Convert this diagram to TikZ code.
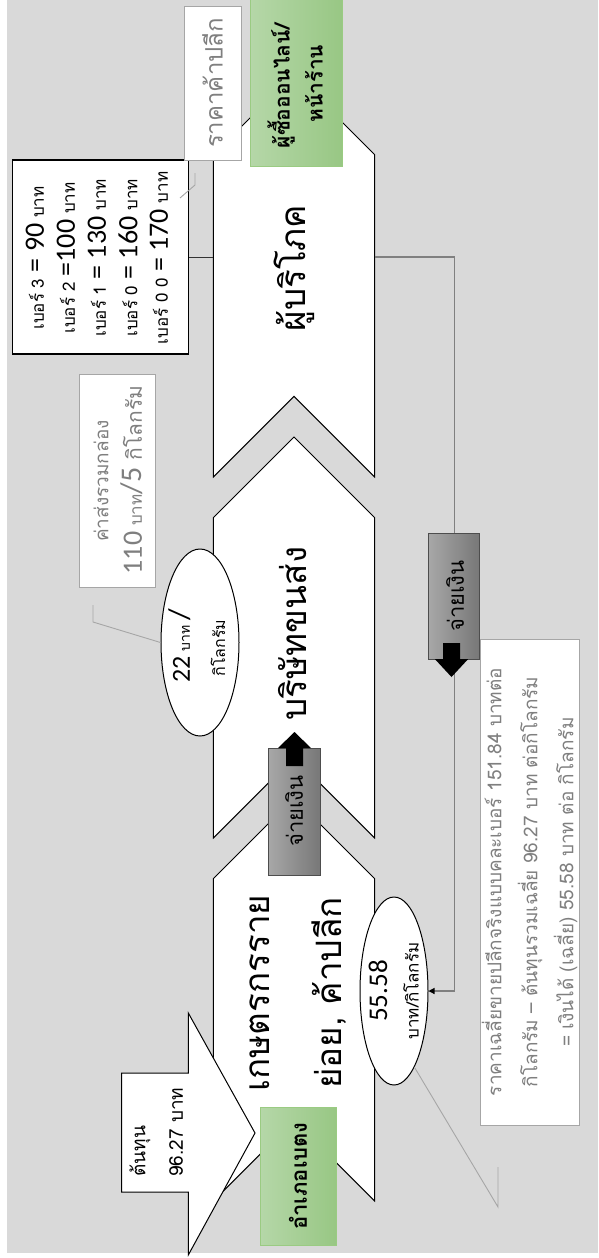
\documentclass[tikz,border=0pt]{standalone}
\usepackage{fontspec}
\setmainfont{Carlito}
\newfontfamily\thfont[Script=Thai]{Loma}
\usetikzlibrary{shapes.geometric,arrows.meta}

\definecolor{bgGrey}{HTML}{D9D9D9}
\definecolor{noteGrey}{HTML}{A6A6A6}
\definecolor{noteText}{HTML}{7F7F7F}
\definecolor{lineGrey}{HTML}{808080}
\definecolor{payL}{HTML}{A8A8A8}
\definecolor{payR}{HTML}{777777}
\definecolor{payEdge}{HTML}{4D4D4D}
\definecolor{greenL}{HTML}{B5D7A8}
\definecolor{greenR}{HTML}{98C784}
\definecolor{greenEdge}{HTML}{9ACB82}

% Thai text (Loma) and Latin figures (Carlito) at a given size in px
\newcommand\thsz[1]{\thfont\fontsize{#1}{#1}\selectfont}
\newcommand\lasz[1]{\rmfamily\fontsize{#1}{#1}\selectfont}

\begin{document}
\begin{tikzpicture}[x=1pt,y=-1pt,
  txt/.style={rotate=90, inner sep=0pt, align=center},
  chevtext/.style={txt, font={\thsz{35}}},
  chev/.style={draw=black, line width=1pt, fill=white, line join=miter},
  notebox/.style={draw=noteGrey, line width=1pt, fill=white, inner sep=0pt},
  pricebox/.style={draw=black, line width=1.3pt, fill=white, inner sep=0pt},
  bubble/.style={ellipse, draw=black, line width=1pt, fill=white, inner sep=0pt},
  paybox/.style={draw=payEdge, line width=0.8pt, left color=payL, right color=payR, inner sep=0pt},
  placebox/.style={draw=greenEdge, line width=0.8pt, left color=greenL, right color=greenR, inner sep=0pt},
  pointer/.style={draw=noteGrey, line width=0.9pt},
  flow/.style={draw=lineGrey, line width=1.2pt},
  link/.style={draw=black!80, line width=0.8pt},
  costshape/.style={draw=black, line width=1pt, fill=white, line join=miter}]

% canvas
\useasboundingbox (0,0) rectangle (598,1258);
\fill[bgGrey] (7.3,0) rectangle (598,1253.3);

% the three chevrons of the chain
\draw[chev] (294,74) -- (374.7,154.7) -- (374.7,477) -- (294,396.3) -- (213.3,477) -- (213.3,154.7) -- cycle;
\draw[chev] (294,437) -- (374.7,517.7) -- (374.7,838) -- (294,757.3) -- (213.3,838) -- (213.3,517.7) -- cycle;
\draw[chev] (294,798) -- (374.7,878.7) -- (374.7,1201) -- (294,1120.3) -- (213.3,1201) -- (213.3,878.7) -- cycle;

\coordinate (c1L) at (213.3,257);
\coordinate (c1R) at (374.7,257);

\node[chevtext] (consumer) at (294,268) {ผู้บริโภค};
\node[chevtext] (carrier) at (293,633.5) {บริษัทขนส่ง};
\node[chevtext] (farmer1) at (260,993) {เกษตรกรราย};
\node[chevtext] (farmer2) at (329,993) {ย่อย, ค้าปลีก};

% price list by size grade
\node[pricebox, minimum width=175.6pt, minimum height=194pt] (price) at (100.5,257) {};
\draw[link] (price.east) -- (c1L);
\node[txt] (p1) at (35,258) {{\thsz{17}เบอร์ 3}{\lasz{28} = 90}{\thsz{17} บาท}};
\node[txt] (p2) at (66,258) {{\thsz{17}เบอร์ 2}{\lasz{28} =100}{\thsz{17} บาท}};
\node[txt] (p3) at (97,258) {{\thsz{17}เบอร์ 1}{\lasz{28} = 130}{\thsz{17} บาท}};
\node[txt] (p4) at (128,258) {{\thsz{17}เบอร์ 0}{\lasz{28} = 160}{\thsz{17} บาท}};
\node[txt] (p5) at (159,258) {{\thsz{17}เบอร์ 0 0}{\lasz{28} = 170}{\thsz{17} บาท}};

% retail price label
\node[notebox, minimum width=57pt, minimum height=154pt] (retail) at (212.5,83) {};
\node[txt, text=noteText, font={\thsz{24}}] (retailTxt) at (retail.center) {ราคาค้าปลีก};
\coordinate (rp1) at (195,173);
\coordinate (rp2) at (195,185);
\coordinate (rp3) at (180,198);
\draw[pointer] (rp1) -- (rp2) -- (rp3);

% buyers
\node[placebox, minimum width=92pt, minimum height=170pt] (buyer) at (296,81) {};
\node[txt, font={\thsz{21}\bfseries}] (buyer1) at (281,86) {ผู้ซื้อออนไลน์/};
\node[txt, font={\thsz{21}\bfseries}] (buyer2) at (314,83.5) {หน้าร้าน};

% shipping cost
\node[notebox, minimum width=76.6pt, minimum height=213pt] (ship) at (117.3,480.5) {};
\node[txt, text=noteText, font={\thsz{19}}] (ship1) at (101,481) {ค่าส่งรวมกล่อง};
\node[txt, text=noteText] (ship2) at (132,480) {{\lasz{28}110}{\thsz{17} บาท}{\lasz{30}/5}{\thsz{21} กิโลกรัม}};

\node[bubble, minimum width=78pt, minimum height=187pt] (e22) at (200,642.5) {};
\node[txt] (t22a) at (180,646) {{\lasz{26}22}{\thsz{14} บาท }{\lasz{30}/}};
\node[txt, font={\thsz{16}}] (t22b) at (218,648) {กิโลกรัม};
\coordinate (sp1) at (93,605);
\coordinate (sp2) at (93,622);
\draw[pointer] (sp1) -- (sp2) -- (e22.west);

% money flowing back from the consumer to the farmer
\node[bubble, minimum width=68pt, minimum height=188pt] (e55) at (394,991) {};
\coordinate (bend1) at (454.7,257);
\coordinate (bend2) at (454.7,991);
\draw[flow, -{Triangle[length=6pt,width=6pt,color=black]}] (c1R) -- (bend1) -- (bend2) -- (e55.east);
\node[txt, font={\lasz{27}}] (t55a) at (378,991) {55.58};
\node[txt, font={\thsz{17}}] (t55b) at (411,991) {บาท/กิโลกรัม};

\node[paybox, minimum width=51.7pt, minimum height=126pt] (pay2) at (453.85,596) {};
\fill[black] (443,643) -- (460,643) -- (460,659) -- (468.2,659) -- (451.5,677) -- (434.8,659) -- (443,659) -- cycle;
\node[txt, font={\thsz{22}}] (pay2Txt) at (455,596) {จ่ายเงิน};

\node[paybox, minimum width=52.7pt, minimum height=127pt] (pay1) at (294.35,811.5) {};
\fill[black] (286,766) -- (303,766) -- (303,748) -- (311,748) -- (294.5,732) -- (278,748) -- (286,748) -- cycle;
\node[txt, font={\thsz{22}}] (pay1Txt) at (294,811) {จ่ายเงิน};

% margin calculation
\node[notebox, rotate=90, minimum width=486pt, minimum height=99pt, align=center, text=noteText,
      font={\thfont\fontsize{19}{36}\selectfont}] (calc) at (529.5,882)
  {ราคาเฉลี่ยขายปลีกจริงแบบคละเบอร์ 151.84 บาทต่อ\\
   กิโลกรัม – ต้นทุนรวมเฉลี่ย 96.27 บาท ต่อกิโลกรัม\\
   = เงินได้ (เฉลี่ย) 55.58 บาท ต่อ กิโลกรัม};
\coordinate (cp1) at (498,1167);
\coordinate (cp2) at (498,1207);
\draw[pointer] (cp1) -- (cp2) -- (e55.-75);

% production cost callout
\draw[costshape] (121.7,1073) -- (188.3,1073) -- (188.3,1013) -- (255,1133) -- (188.3,1255) -- (188.3,1192) -- (121.7,1192) -- cycle;
\node[txt, anchor=west, font={\thsz{19}}] (cost1) at (140,1177) {ต้นทุน};
\node[txt, anchor=west, font={\thsz{19}}] (cost2) at (176,1177) {96.27 บาท};

% district
\node[placebox, minimum width=76pt, minimum height=138pt] (district) at (298,1176) {};
\node[txt, font={\thsz{22}\bfseries}] (districtTxt) at (298,1176) {อำเภอเบตง};

\end{tikzpicture}
\end{document}
